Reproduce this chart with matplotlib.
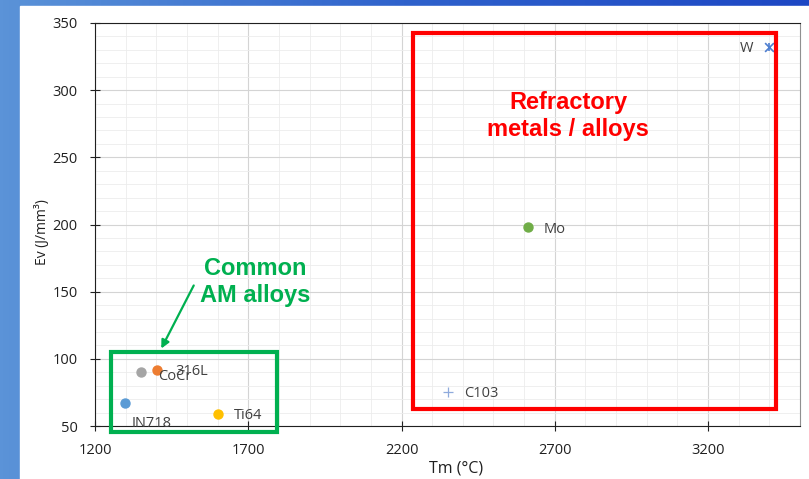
import numpy as np
import matplotlib.pyplot as plt
from matplotlib.patches import Rectangle, FancyArrowPatch
from matplotlib.colors import LinearSegmentedColormap
from matplotlib.ticker import MultipleLocator

# melting temperature (C) and volumetric energy density (J/mm3)
names = ['W', 'Mo', 'C103', '316L', 'CoCr', 'IN718', 'Ti64']
tm = [3400, 2612, 2352, 1402, 1350, 1298, 1600]
ev = [332, 198, 75, 92, 90, 67, 59]
colors = ['#4f7fd0', '#70ad47', '#8faadc', '#ed7d31', '#a5a5a5', '#5b9bd5', '#ffc000']
markers = ['*', 'o', '+', 'o', 'o', 'o', 'o']
# label offsets in points
offs = [(-21.5, -1), (11.5, -1.5), (11.5, -1), (13, -1.5), (12, -3), (5, -15), (12, -1.5)]

W, H = 809, 479
fig = plt.figure(figsize=(W / 100, H / 100), dpi=100)

# slide background: blue gradient, white panel
bg = fig.add_axes([0, 0, 1, 1], zorder=-10)
grad = np.linspace(0, 1, 256).reshape(1, -1)
cmap = LinearSegmentedColormap.from_list('b', ['#5b93d8', '#2f62cc', '#1d47c4'])
bg.imshow(grad, aspect='auto', cmap=cmap, extent=[0, 1, 0, 1])
bg.add_patch(Rectangle((20 / W, 0), 1, 1 - 6 / H, color='white'))
bg.set_xlim(0, 1)
bg.set_ylim(0, 1)
bg.axis('off')

ax = fig.add_axes([95 / W, 1 - 426 / H, (800 - 95) / W, (426 - 23) / H])
for i in range(len(names)):
    if markers[i] == 'o':
        ax.scatter(tm[i], ev[i], s=42, color=colors[i], marker='o', zorder=3)
    elif markers[i] == '*':
        # excel style star: x with a vertical bar
        ax.scatter(tm[i], ev[i], s=40, color=colors[i], marker='x', linewidths=1.2, zorder=3)
        ax.scatter(tm[i], ev[i], s=40, color=colors[i], marker='|', linewidths=1.2, zorder=3)
    else:
        ax.scatter(tm[i], ev[i], s=42, color=colors[i], marker='+', linewidths=0.9, zorder=3)
    ax.annotate(names[i], (tm[i], ev[i]), xytext=offs[i], textcoords='offset points',
                ha='left', va='center', fontsize=10.5, color='#404040',
                family='Open Sans', zorder=4)

ax.set_xlim(1200, 3500)
ax.set_ylim(50, 350)
ax.xaxis.set_major_locator(MultipleLocator(500))
ax.xaxis.set_minor_locator(MultipleLocator(100))
ax.yaxis.set_major_locator(MultipleLocator(50))
ax.yaxis.set_minor_locator(MultipleLocator(10))
ax.set_xticks([1200, 1700, 2200, 2700, 3200])
ax.grid(which='major', color='#d4d4d4', lw=0.8)
ax.grid(which='minor', color='#ececec', lw=0.6)
ax.set_axisbelow(True)
ax.tick_params(which='major', direction='inout', length=7, width=0.8,
               labelsize=10.5, colors='#202020')
ax.tick_params(axis='x', pad=9)
ax.tick_params(axis='y', pad=9)
ax.tick_params(which='minor', length=0)
for t in ax.get_xticklabels() + ax.get_yticklabels():
    t.set_family('Open Sans')
for s in ['left', 'bottom', 'top']:
    ax.spines[s].set_color('#202020')
ax.spines['right'].set_color('#909090')
ax.set_xlabel('Tm (°C)', fontsize=11.5, family='Open Sans', color='#202020')
ax.set_ylabel('Ev (J/mm³)', fontsize=10, family='Open Sans', color='#202020')
ax.xaxis.set_label_coords(0.512, -0.085)
ax.yaxis.set_label_coords(-0.064, 0.48)

# highlight boxes and callouts drawn in figure pixels
ov = fig.add_axes([0, 0, 1, 1], zorder=20)
ov.set_xlim(0, 1)
ov.set_ylim(0, 1)
ov.axis('off')
ov.add_patch(Rectangle((413 / W, 1 - 409 / H), (776 - 413) / W, (409 - 33) / H,
                       fill=False, ec='#ff0000', lw=3.0))
ov.add_patch(Rectangle((111 / W, 1 - 432 / H), (277 - 111) / W, (432 - 352) / H,
                       fill=False, ec='#00b050', lw=3.0))
ov.text(568 / W, 1 - 116 / H, 'Refractory\nmetals / alloys', ha='center', va='center',
        fontsize=17, fontweight='bold', color='#ff0000', family='Liberation Sans',
        linespacing=1.2)
ov.text(255 / W, 1 - 282 / H, 'Common\nAM alloys', ha='center', va='center',
        fontsize=17, fontweight='bold', color='#00b050', family='Liberation Sans',
        linespacing=1.2)
ov.add_patch(FancyArrowPatch((195 / W, 1 - 283 / H), (160 / W, 1 - 351 / H),
                             arrowstyle='-|>', mutation_scale=12, color='#00b050', lw=1.6))

fig.savefig('out.png', dpi=100)
